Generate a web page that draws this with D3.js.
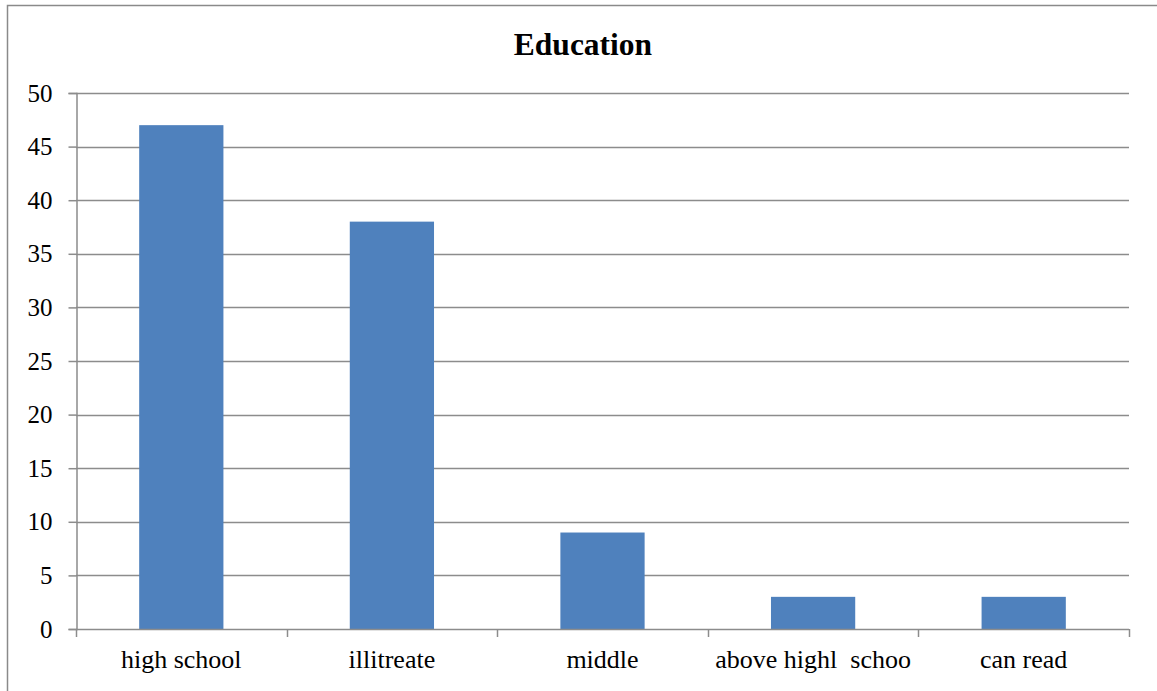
<!DOCTYPE html>
<html>
<head>
<meta charset="utf-8">
<script src="https://cdn.jsdelivr.net/npm/d3@7"></script>
<style>
  html, body { margin: 0; padding: 0; background: #fff; }
  svg { display: block; }
  svg text { font-family: "Times New Roman", "Liberation Serif", Times, Tinos, "DejaVu Serif", serif !important; fill: #000; }
</style>
</head>
<body>
<svg id="chart" width="1157" height="691"></svg>
<script>
// Education levels and counts
const categories = ["high school", "illitreate", "middle", "above highl  schoo", "can read"];
const values = [47, 38, 9, 3, 3];
const yTicks = [0, 5, 10, 15, 20, 25, 30, 35, 40, 45, 50];
const title = "Education";

const svg = d3.select("#chart");
const W = 1157, H = 691;
const plot = { left: 76, right: 1129, top: 93, bottom: 629 };
const gridColor = "#8c8c8c";

svg.append("rect").attr("width", W).attr("height", H).attr("fill", "#fff");

// chart frame (runs off the right and bottom edges)
svg.append("rect")
  .attr("x", 7.5).attr("y", 5.5)
  .attr("width", 1300).attr("height", 900)
  .attr("fill", "none").attr("stroke", "#8a8a8a").attr("stroke-width", 1.5);

const x = d3.scaleBand().domain(categories).range([plot.left, plot.right])
  .paddingInner(0.6).paddingOuter(0.3);
const xOuter = d3.scaleBand().domain(categories).range([plot.left, plot.right]);
const y = d3.scaleLinear().domain([0, 50]).range([plot.bottom, plot.top]);

// horizontal gridlines
svg.append("g").selectAll("line").data(yTicks.filter(d => d > 0)).join("line")
  .attr("x1", plot.left).attr("x2", plot.right)
  .attr("y1", d => Math.round(y(d)) + 0.5).attr("y2", d => Math.round(y(d)) + 0.5)
  .attr("stroke", gridColor).attr("stroke-width", 1.5);

// bars
svg.append("g").selectAll("rect").data(values).join("rect")
  .attr("x", (d, i) => x(categories[i]))
  .attr("width", x.bandwidth())
  .attr("y", d => y(d))
  .attr("height", d => y(0) - y(d))
  .attr("fill", "#4f81bd");

// y axis
const yAxis = d3.axisLeft(y).tickValues(yTicks).tickSize(8).tickPadding(16).tickFormat(d3.format("d"));
const gy = svg.append("g").attr("transform", `translate(${plot.left + 0.5},0)`).call(yAxis)
  .attr("font-family", null);
gy.select(".domain").attr("stroke", gridColor).attr("stroke-width", 1.5);
gy.selectAll(".tick line").attr("stroke", gridColor).attr("stroke-width", 1.5);
gy.selectAll(".tick text").style("font-size", "25px").attr("fill", "#000");

// x axis with ticks at category boundaries
const boundaries = categories.map(c => xOuter(c)).concat([plot.right]);
const gx = svg.append("g");
gx.append("line").attr("x1", plot.left).attr("x2", plot.right)
  .attr("y1", plot.bottom + 0.5).attr("y2", plot.bottom + 0.5)
  .attr("stroke", gridColor).attr("stroke-width", 1.5);
gx.selectAll("line.tk").data(boundaries).join("line").attr("class", "tk")
  .attr("x1", d => Math.round(d) + 0.5).attr("x2", d => Math.round(d) + 0.5)
  .attr("y1", plot.bottom).attr("y2", plot.bottom + 8)
  .attr("stroke", gridColor).attr("stroke-width", 1.5);
gx.selectAll("text").data(categories).join("text")
  .attr("x", d => xOuter(d) + xOuter.bandwidth() / 2)
  .attr("y", 668)
  .attr("text-anchor", "middle")
  .attr("xml:space", "preserve")
  .style("white-space", "pre")
  .style("font-size", "26px")
  .text(d => d);

// title
svg.append("text")
  .attr("x", 583).attr("y", 55)
  .attr("text-anchor", "middle")
  .style("font-size", "31.5px").style("font-weight", "bold")
  .text(title);
</script>
</body>
</html>
